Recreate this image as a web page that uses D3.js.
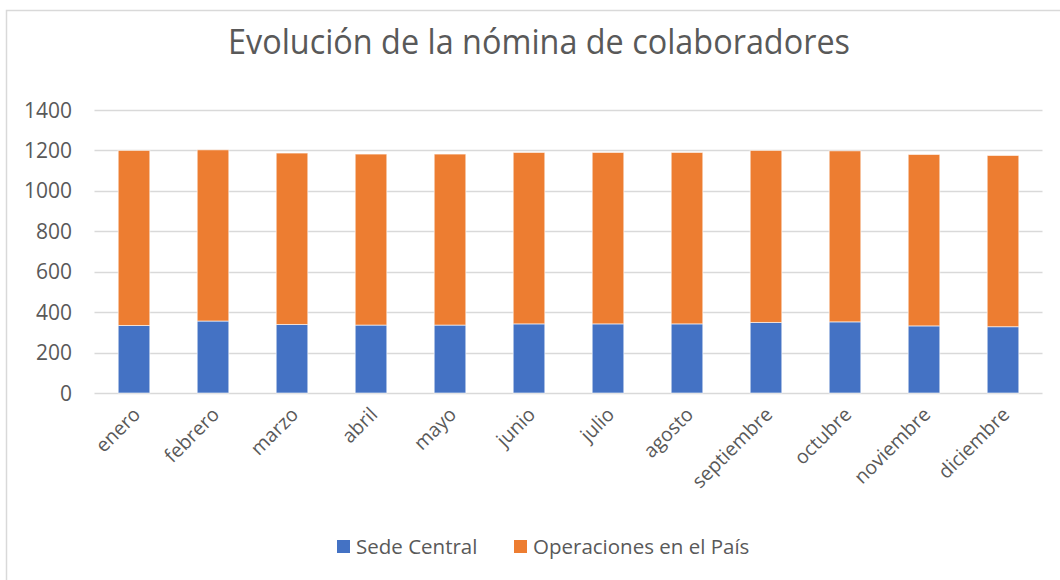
<!DOCTYPE html>
<html>
<head>
<meta charset="utf-8">
<script src="https://cdn.jsdelivr.net/npm/d3@7"></script>
<style>
  body { margin: 0; background: #fff; }
  text { font-family: "Open Sans", sans-serif; fill: #595959; }
</style>
</head>
<body>
<div id="chart"></div>
<script>
// data
const months = ["enero", "febrero", "marzo", "abril", "mayo", "junio", "julio",
    "agosto", "septiembre", "octubre", "noviembre", "diciembre"];
const sedeCentral = [334, 356, 339, 336, 336, 342, 342, 342, 349, 352, 332, 328];
const operacionesPais = [866, 847, 848, 846, 846, 848, 848, 848, 851, 846, 848, 847];
const seriesNames = ["Sede Central", "Operaciones en el País"];
const seriesColors = ["#4472C4", "#ED7D31"];
const yTicks = [0, 200, 400, 600, 800, 1000, 1200, 1400];

const width = 1060, height = 580;
const margin = {top: 110, left: 94.5, right: 17.5, bottom: 187};

const svg = d3.select("#chart")
    .append("svg")
        .attr("width", width)
        .attr("height", height);

// chart frame
svg.append("rect")
    .attr("x", 6.5).attr("y", 10.5)
    .attr("width", 1100).attr("height", 700)
    .attr("fill", "none")
    .attr("stroke", "#d9d9d9")
    .attr("stroke-width", 1.5);

// title
svg.append("text")
    .attr("x", 539)
    .attr("y", 54)
    .attr("text-anchor", "middle")
    .attr("textLength", 622)
    .attr("lengthAdjust", "spacingAndGlyphs")
    .style("font-size", "34px")
    .text("Evolución de la nómina de colaboradores");

const rows = months.map((m, i) => ({month: m, sede: sedeCentral[i], ops: operacionesPais[i]}));
const stack = d3.stack().keys(["sede", "ops"])(rows);

const x = d3.scaleBand()
    .domain(months)
    .range([margin.left, width - margin.right])
    .paddingInner(0.6)
    .paddingOuter(0.3);

const y = d3.scaleLinear()
    .domain([0, 1400])
    .range([height - margin.bottom, margin.top]);

// gridlines
svg.append("g")
    .selectAll("line")
    .data(yTicks)
    .join("line")
        .attr("x1", margin.left)
        .attr("x2", width - margin.right)
        .attr("y1", d => Math.round(y(d)) + 0.5)
        .attr("y2", d => Math.round(y(d)) + 0.5)
        .attr("stroke", "#d9d9d9")
        .attr("stroke-width", 1.5);

// y labels
svg.append("g")
    .selectAll("text")
    .data(yTicks)
    .join("text")
        .attr("x", 72)
        .attr("y", d => y(d))
        .attr("dy", "0.36em")
        .attr("text-anchor", "end")
        .style("font-size", "21px")
        .text(d => d);

// bars
svg.append("g")
    .selectAll("g")
    .data(stack)
    .join("g")
        .attr("fill", (d, i) => seriesColors[i])
    .selectAll("rect")
    .data(d => d)
    .join("rect")
        .attr("x", d => x(d.data.month))
        .attr("y", d => y(d[1]))
        .attr("width", x.bandwidth())
        .attr("height", d => y(d[0]) - y(d[1]))
        .attr("stroke", "#fff")
        .attr("stroke-opacity", 0.6)
        .attr("stroke-width", 1);

// x labels, rotated
svg.append("g")
    .selectAll("text")
    .data(months)
    .join("text")
        .attr("transform", d => `translate(${x(d) + x.bandwidth() / 2 - 2}, 406) rotate(-45)`)
        .attr("text-anchor", "end")
        .attr("dy", "0.7em")
        .style("font-size", "19.5px")
        .text(d => d);

// legend
const legend = svg.append("g");
const legendX = [337, 514];
seriesNames.forEach((name, i) => {
    legend.append("rect")
        .attr("x", legendX[i]).attr("y", 540)
        .attr("width", 13).attr("height", 13)
        .attr("fill", seriesColors[i]);
    legend.append("text")
        .attr("x", legendX[i] + 19)
        .attr("y", 547)
        .attr("dy", "0.36em")
        .style("font-size", "20.5px")
        .text(name);
});
</script>
</body>
</html>
